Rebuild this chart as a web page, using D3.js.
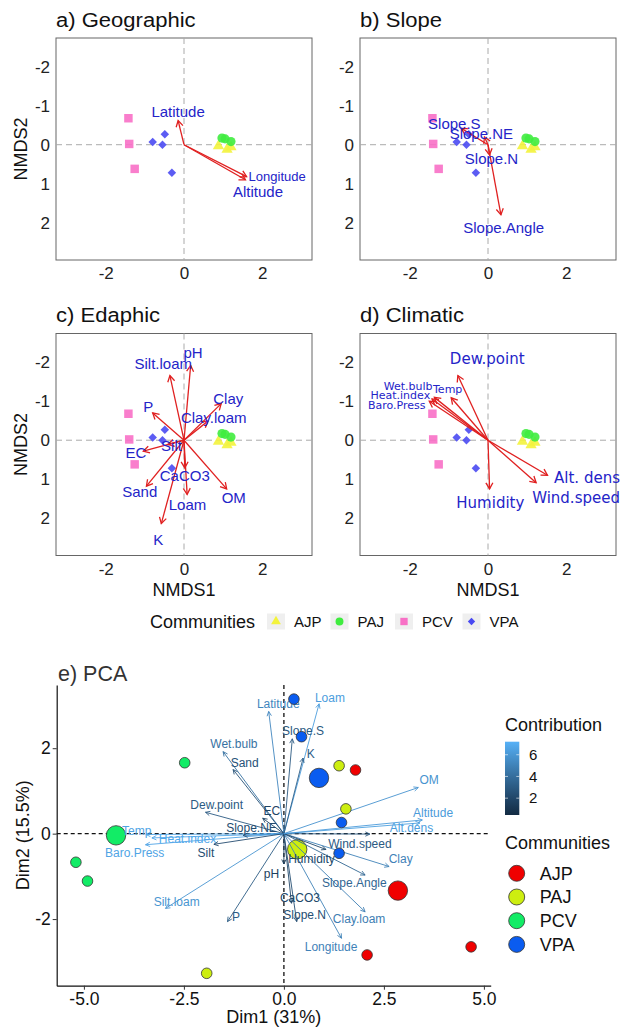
<!DOCTYPE html>
<html>
<head>
<meta charset="utf-8">
<script src="https://cdn.jsdelivr.net/npm/d3@7"></script>
<style>
  body { margin: 0; background: #fff; }
  svg { display: block; }
</style>
</head>
<body>
<svg id="chart" width="621" height="1029"></svg>
<script>
// ---- data ----
var communities = ["AJP", "PAJ", "PCV", "VPA"];

// NMDS site scores, same for the four panels
var nmdsSites = [
  {comm: "AJP", x: 0.88, y: 0.03}, {comm: "AJP", x: 1.10, y: 0.12}, {comm: "AJP", x: 1.20, y: 0.06},
  {comm: "PAJ", x: 0.97, y: -0.17}, {comm: "PAJ", x: 1.05, y: -0.15}, {comm: "PAJ", x: 1.20, y: -0.08},
  {comm: "PCV", x: -1.42, y: -0.68}, {comm: "PCV", x: -1.40, y: -0.02}, {comm: "PCV", x: -1.26, y: 0.62},
  {comm: "VPA", x: -0.80, y: -0.07}, {comm: "VPA", x: -0.49, y: -0.27}, {comm: "VPA", x: -0.55, y: 0.00}, {comm: "VPA", x: -0.31, y: 0.72}
];

// fitted vectors: x,y = arrow tip, lx,ly = where the label sits
var geoVectors = [
  {name: "Latitude", x: -0.15, y: -0.62, lx: -0.15, ly: -0.85},
  {name: "Longitude", x: 1.60, y: 0.82, lx: 2.38, ly: 0.82},
  {name: "Altitude", x: 1.57, y: 0.90, lx: 1.89, ly: 1.22}
];
var slopeVectors = [
  {name: "Slope.S", x: -0.68, y: -0.42, lx: -0.86, ly: -0.53},
  {name: "Slope.NE", x: -0.09, y: -0.20, lx: -0.17, ly: -0.27},
  {name: "Slope.N", x: 0.04, y: 0.26, lx: 0.09, ly: 0.37},
  {name: "Slope.Angle", x: 0.33, y: 1.80, lx: 0.40, ly: 2.13}
];
var edaVectors = [
  {name: "pH", x: 0.17, y: -1.92, lx: 0.23, ly: -2.24},
  {name: "Silt.loam", x: -0.36, y: -1.66, lx: -0.53, ly: -1.97},
  {name: "Clay", x: 0.95, y: -0.94, lx: 1.13, ly: -1.06},
  {name: "Clay.loam", x: 0.61, y: -0.49, lx: 0.76, ly: -0.57},
  {name: "P", x: -0.80, y: -0.70, lx: -0.91, ly: -0.86},
  {name: "EC", x: -1.04, y: 0.28, lx: -1.23, ly: 0.32},
  {name: "Silt", x: -0.41, y: 0.11, lx: -0.32, ly: 0.15},
  {name: "CaCO3", x: 0.02, y: 0.71, lx: 0.02, ly: 0.90},
  {name: "Loam", x: 0.08, y: 1.39, lx: 0.09, ly: 1.65},
  {name: "Sand", x: -0.96, y: 1.18, lx: -1.13, ly: 1.33},
  {name: "K", x: -0.58, y: 2.14, lx: -0.66, ly: 2.55},
  {name: "OM", x: 1.09, y: 1.25, lx: 1.27, ly: 1.48}
];
var climVectors = [
  {name: "Dew.point", x: -0.77, y: -1.66, lx: -0.02, ly: -2.09},
  {name: "Temp", x: -0.94, y: -1.09, lx: -1.03, ly: -1.30},
  {name: "Wet.bulb", x: -1.37, y: -1.10, lx: -2.04, ly: -1.40},
  {name: "Heat.index", x: -1.43, y: -1.06, lx: -2.24, ly: -1.16},
  {name: "Baro.Press", x: -1.50, y: -1.00, lx: -2.33, ly: -0.90},
  {name: "Humidity", x: 0.04, y: 1.25, lx: 0.06, ly: 1.60},
  {name: "Alt. dens", x: 1.52, y: 0.90, lx: 2.53, ly: 0.97},
  {name: "Wind.speed", x: 1.23, y: 1.09, lx: 2.25, ly: 1.49}
];
var nmdsTicks = [-2, -1, 0, 1, 2];
var nmdsXTicks = [-2, 0, 2];

// PCA individuals
var pcaInd = [
  {comm: "AJP", x: 1.79, y: 1.49}, {comm: "AJP", x: 2.08, y: -2.84}, {comm: "AJP", x: 4.68, y: -2.65},
  {comm: "PAJ", x: 1.38, y: 1.59}, {comm: "PAJ", x: 1.55, y: 0.58}, {comm: "PAJ", x: -1.93, y: -3.27},
  {comm: "PCV", x: -2.48, y: 1.66}, {comm: "PCV", x: -5.20, y: -0.67}, {comm: "PCV", x: -4.91, y: -1.11},
  {comm: "VPA", x: 0.25, y: 3.15}, {comm: "VPA", x: 0.44, y: 2.27}, {comm: "VPA", x: 1.44, y: 0.26}, {comm: "VPA", x: 1.38, y: -0.46}
];
// PCA variables: tip, label spot, contribution
var pcaVars = [
  {name: "Latitude", x: -0.38, y: 2.86, lx: -0.14, ly: 3.03, contrib: 5.2},
  {name: "Loam", x: 0.88, y: 3.04, lx: 1.15, ly: 3.19, contrib: 6.3},
  {name: "Slope.S", x: 0.21, y: 2.22, lx: 0.48, ly: 2.41, contrib: 3.0},
  {name: "K", x: 0.48, y: 1.77, lx: 0.67, ly: 1.88, contrib: 3.2},
  {name: "Wet.bulb", x: -1.52, y: 1.92, lx: -1.25, ly: 2.10, contrib: 4.2},
  {name: "Sand", x: -1.27, y: 1.50, lx: -0.98, ly: 1.67, contrib: 2.6},
  {name: "Dew.point", x: -1.96, y: 0.50, lx: -1.68, ly: 0.68, contrib: 3.0},
  {name: "EC", x: -0.53, y: 0.36, lx: -0.30, ly: 0.53, contrib: 1.8},
  {name: "Slope.NE", x: -1.02, y: -0.04, lx: -0.81, ly: 0.13, contrib: 2.3},
  {name: "Temp", x: -3.45, y: -0.02, lx: -3.68, ly: 0.07, contrib: 6.6},
  {name: "Heat.index", x: -3.30, y: -0.10, lx: -2.41, ly: -0.11, contrib: 6.8},
  {name: "Baro.Press", x: -3.46, y: -0.26, lx: -3.73, ly: -0.46, contrib: 6.6},
  {name: "Silt", x: -1.75, y: -0.25, lx: -1.95, ly: -0.44, contrib: 2.3},
  {name: "Silt.loam", x: -2.96, y: -1.75, lx: -2.68, ly: -1.59, contrib: 5.9},
  {name: "P", x: -1.41, y: -2.06, lx: -1.20, ly: -1.94, contrib: 3.1},
  {name: "pH", x: 0.00, y: -0.71, lx: -0.31, ly: -0.93, contrib: 1.6},
  {name: "CaCO3", x: 0.19, y: -1.63, lx: 0.40, ly: -1.50, contrib: 2.0},
  {name: "Slope.N", x: 0.32, y: -2.06, lx: 0.52, ly: -1.90, contrib: 2.4},
  {name: "Clay.loam", x: 2.03, y: -1.83, lx: 1.88, ly: -2.00, contrib: 4.8},
  {name: "Longitude", x: 1.44, y: -2.45, lx: 1.18, ly: -2.65, contrib: 5.0},
  {name: "Slope.Angle", x: 2.03, y: -0.97, lx: 1.76, ly: -1.15, contrib: 3.6},
  {name: "Clay", x: 2.63, y: -0.77, lx: 2.92, ly: -0.60, contrib: 5.0},
  {name: "Wind.speed", x: 2.15, y: -0.01, lx: 1.90, ly: -0.23, contrib: 3.0},
  {name: "Humidity", x: 1.05, y: -0.37, lx: 0.69, ly: -0.58, contrib: 2.0},
  {name: "Alt.dens", x: 3.40, y: 0.25, lx: 3.19, ly: 0.13, contrib: 6.4},
  {name: "Altitude", x: 3.46, y: 0.32, lx: 3.73, ly: 0.48, contrib: 6.2},
  {name: "OM", x: 3.36, y: 1.08, lx: 3.63, ly: 1.26, contrib: 5.8}
];
var contribTicks = [2, 4, 6];
var pcaXTicks = [-5, -2.5, 0, 2.5, 5];
var pcaYTicks = [-2, 0, 2];

// ---- drawing ----
var svg = d3.select("#chart");
var FONT = "Liberation Sans, Arial, sans-serif";

var nmdsFill = {AJP: "#f3f33c", PAJ: "#3fec3f", PCV: "#f870c6", VPA: "#4a4af2"};
// diamond = a square turned 45 degrees
var nmdsShape = {AJP: d3.symbolTriangle, PAJ: d3.symbolCircle, PCV: d3.symbolSquare, VPA: d3.symbolSquare};
var nmdsRot = {AJP: 0, PAJ: 0, PCV: 0, VPA: 45};
var nmdsSize = {AJP: 55, PAJ: 66, PCV: 72, VPA: 36};
var pcaFill = {AJP: "#f00000", PAJ: "#cdee10", PCV: "#12ec66", VPA: "#0a5cf0"};

var labelSize = {"Longitude": 13, "Wet.bulb": 11, "Heat.index": 11, "Baro.Press": 11, "Temp": 11};

function headPath(x1, y1, x2, y2, len, ang) {
  var a = Math.atan2(y2 - y1, x2 - x1);
  return "M" + (x2 - len * Math.cos(a - ang)) + "," + (y2 - len * Math.sin(a - ang)) +
    "L" + x2 + "," + y2 +
    "L" + (x2 - len * Math.cos(a + ang)) + "," + (y2 - len * Math.sin(a + ang));
}

var PW = 256, PH = 222;
var panels = [
  {title: "a) Geographic", vec: geoVectors, left: 56, top: 38, yTitle: true, xTitle: false},
  {title: "b) Slope", vec: slopeVectors, left: 360, top: 38, yTitle: false, xTitle: false},
  {title: "c) Edaphic", vec: edaVectors, left: 56, top: 333.5, yTitle: true, xTitle: true},
  {title: "d) Climatic", vec: climVectors, left: 360, top: 333.5, yTitle: false, xTitle: true, font: "DejaVu Sans, sans-serif"}
];

panels.forEach(function(p) {
  var x = d3.scaleLinear().domain([-3.27, 3.27]).range([p.left, p.left + PW]);
  var y = d3.scaleLinear().domain([-2.74, 2.96]).range([p.top, p.top + PH]);
  var g = svg.append("g");

  g.append("rect")
    .attr("x", p.left).attr("y", p.top).attr("width", PW).attr("height", PH)
    .attr("fill", "white").attr("stroke", "#666").attr("stroke-width", 1);

  g.append("line")
    .attr("x1", x(0)).attr("x2", x(0)).attr("y1", p.top).attr("y2", p.top + PH)
    .attr("stroke", "#aaa").attr("stroke-dasharray", "6,4");
  g.append("line")
    .attr("x1", p.left).attr("x2", p.left + PW).attr("y1", y(0)).attr("y2", y(0))
    .attr("stroke", "#aaa").attr("stroke-dasharray", "6,4");

  var xa = g.append("g").attr("transform", "translate(0," + (p.top + PH) + ")")
    .call(d3.axisBottom(x).tickValues(nmdsXTicks).tickSize(0).tickPadding(7).tickFormat(function(d) { return String(d); }));
  xa.select(".domain").remove();
  xa.selectAll("text").attr("font-family", FONT).attr("font-size", 17).attr("fill", "#222");

  var ya = g.append("g").attr("transform", "translate(" + p.left + ",0)")
    .call(d3.axisLeft(y).tickValues(nmdsTicks).tickSize(0).tickPadding(6).tickFormat(function(d) { return String(d); }));
  ya.select(".domain").remove();
  ya.selectAll("text").attr("font-family", FONT).attr("font-size", 17).attr("fill", "#222");

  // sites
  g.selectAll("path.site").data(nmdsSites).enter().append("path")
    .attr("class", "site")
    .attr("d", function(d) { return d3.symbol().type(nmdsShape[d.comm]).size(nmdsSize[d.comm])(); })
    .attr("transform", function(d) { return "translate(" + x(d.x) + "," + y(d.y) + ") rotate(" + nmdsRot[d.comm] + ")"; })
    .attr("fill", function(d) { return nmdsFill[d.comm]; })
    .attr("opacity", 0.9);

  // arrows
  var ag = g.append("g").attr("stroke", "#e02020").attr("stroke-width", 1.3).attr("fill", "none");
  ag.selectAll("line").data(p.vec).enter().append("line")
    .attr("x1", x(0)).attr("y1", y(0))
    .attr("x2", function(d) { return x(d.x); }).attr("y2", function(d) { return y(d.y); });
  ag.selectAll("path").data(p.vec).enter().append("path")
    .attr("d", function(d) { return headPath(x(0), y(0), x(d.x), y(d.y), 7, Math.PI / 6); });

  g.selectAll("text.vlab").data(p.vec).enter().append("text")
    .attr("class", "vlab")
    .attr("x", function(d) { return x(d.lx); }).attr("y", function(d) { return y(d.ly); })
    .attr("dy", "0.35em").attr("text-anchor", "middle")
    .attr("font-family", p.font || FONT)
    .attr("font-size", function(d) { return labelSize[d.name] || 15; })
    .attr("fill", "#2424c8")
    .text(function(d) { return d.name; });

  svg.append("text")
    .attr("transform", "translate(" + p.left + "," + (p.top - 11.5) + ") scale(1.13,1)")
    .attr("font-family", FONT).attr("font-size", 19.5).attr("fill", "#111")
    .text(p.title);

  if (p.yTitle) {
    svg.append("text")
      .attr("transform", "translate(27," + (p.top + PH / 2) + ") rotate(-90)")
      .attr("text-anchor", "middle").attr("font-family", FONT).attr("font-size", 18).attr("fill", "#111")
      .text("NMDS2");
  }
  if (p.xTitle) {
    svg.append("text")
      .attr("x", x(0)).attr("y", p.top + PH + 40.5)
      .attr("text-anchor", "middle").attr("font-family", FONT).attr("font-size", 18).attr("fill", "#111")
      .text("NMDS1");
  }
});

// NMDS legend
svg.append("text").attr("x", 150).attr("y", 627.5)
  .attr("font-family", FONT).attr("font-size", 18).attr("fill", "#111").text("Communities");
var keyX = [276, 339.5, 404, 471.5];
var lg = svg.selectAll("g.nkey").data(communities).enter().append("g")
  .attr("class", "nkey")
  .attr("transform", function(d, i) { return "translate(" + keyX[i] + ",621.5)"; });
lg.append("rect").attr("x", -9).attr("y", -8).attr("width", 18).attr("height", 16).attr("fill", "#efefef");
lg.append("path")
  .attr("d", function(d) { return d3.symbol().type(nmdsShape[d]).size(nmdsSize[d] * 0.75)(); })
  .attr("transform", function(d) { return "rotate(" + nmdsRot[d] + ")"; })
  .attr("fill", function(d) { return nmdsFill[d]; });
lg.append("text").attr("x", 18).attr("y", 5.5)
  .attr("font-family", FONT).attr("font-size", 15).attr("fill", "#111").text(function(d) { return d; });

// ---- PCA biplot ----
var px = d3.scaleLinear().domain([-5.68, 5.17]).range([56.7, 490.7]);
var py = d3.scaleLinear().domain([-3.56, 3.48]).range([985.7, 685]);
var contribColor = d3.scaleLinear().domain([0.45, 7.2]).range(["#132B43", "#56B1F7"]).interpolate(d3.interpolateLab);

var pg = svg.append("g");
pg.append("line").attr("x1", px(0)).attr("x2", px(0)).attr("y1", 685).attr("y2", 985.7)
  .attr("stroke", "#111").attr("stroke-width", 1.3).attr("stroke-dasharray", "4,3");
pg.append("line").attr("x1", 56.7).attr("x2", 490.7).attr("y1", py(0)).attr("y2", py(0))
  .attr("stroke", "#111").attr("stroke-width", 1.3).attr("stroke-dasharray", "4,3");

var pxa = pg.append("g").attr("transform", "translate(0,985.7)")
  .call(d3.axisBottom(px).tickValues(pcaXTicks).tickSize(4).tickSizeOuter(0).tickPadding(2.5)
    .tickFormat(function(d) { return d.toFixed(1); }));
var pya = pg.append("g").attr("transform", "translate(56.7,0)")
  .call(d3.axisLeft(py).tickValues(pcaYTicks).tickSize(4).tickSizeOuter(0).tickPadding(2)
    .tickFormat(function(d) { return String(d); }));
[pxa, pya].forEach(function(a) {
  a.select(".domain").attr("stroke", "#111").attr("stroke-width", 1.2);
  a.selectAll(".tick line").attr("stroke", "#333");
  a.selectAll("text").attr("font-family", FONT).attr("font-size", 17.5).attr("fill", "#111");
});

// group means
var means = communities.map(function(c) {
  var pts = pcaInd.filter(function(d) { return d.comm === c; });
  return {comm: c, x: d3.mean(pts, function(d) { return d.x; }), y: d3.mean(pts, function(d) { return d.y; })};
});
pg.selectAll("circle.mean").data(means).enter().append("circle")
  .attr("class", "mean")
  .attr("cx", function(d) { return px(d.x); }).attr("cy", function(d) { return py(d.y); })
  .attr("r", 9.7)
  .attr("fill", function(d) { return pcaFill[d.comm]; })
  .attr("stroke", "#333").attr("stroke-width", 0.8);

// variable arrows
var vg = pg.append("g").attr("fill", "none").attr("stroke-width", 0.9);
vg.selectAll("line").data(pcaVars).enter().append("line")
  .attr("x1", px(0)).attr("y1", py(0))
  .attr("x2", function(d) { return px(d.x); }).attr("y2", function(d) { return py(d.y); })
  .attr("stroke", function(d) { return contribColor(d.contrib); });
vg.selectAll("path").data(pcaVars).enter().append("path")
  .attr("d", function(d) { return headPath(px(0), py(0), px(d.x), py(d.y), 5, Math.PI / 7); })
  .attr("stroke", function(d) { return contribColor(d.contrib); });
pg.selectAll("text.plab").data(pcaVars).enter().append("text")
  .attr("class", "plab")
  .attr("x", function(d) { return px(d.lx); }).attr("y", function(d) { return py(d.ly); })
  .attr("dy", "0.35em").attr("text-anchor", "middle")
  .attr("font-family", FONT).attr("font-size", 12)
  .attr("fill", function(d) { return contribColor(d.contrib); })
  .text(function(d) { return d.name; });

// individuals
pg.selectAll("circle.ind").data(pcaInd).enter().append("circle")
  .attr("class", "ind")
  .attr("cx", function(d) { return px(d.x); }).attr("cy", function(d) { return py(d.y); })
  .attr("r", 5.3)
  .attr("fill", function(d) { return pcaFill[d.comm]; })
  .attr("stroke", "#333").attr("stroke-width", 0.8);

svg.append("text").attr("x", 58).attr("y", 680.5)
  .attr("font-family", FONT).attr("font-size", 21.5).attr("fill", "#333").text("e) PCA");
svg.append("text").attr("x", (56.7 + 490.7) / 2).attr("y", 1022.5).attr("text-anchor", "middle")
  .attr("font-family", FONT).attr("font-size", 18).attr("fill", "#111").text("Dim1 (31%)");
svg.append("text").attr("transform", "translate(29," + ((685 + 985.7) / 2) + ") rotate(-90)")
  .attr("text-anchor", "middle").attr("font-family", FONT).attr("font-size", 18).attr("fill", "#111")
  .text("Dim2 (15.5%)");

// contribution colour bar
var cb = d3.scaleLinear().domain([0.45, 7.2]).range([815, 741.7]);
var grad = svg.append("defs").append("linearGradient").attr("id", "cgrad")
  .attr("x1", 0).attr("x2", 0).attr("y1", 1).attr("y2", 0);
d3.range(0, 1.01, 0.1).forEach(function(t) {
  grad.append("stop").attr("offset", t)
    .attr("stop-color", contribColor(0.45 + t * (7.2 - 0.45)));
});
svg.append("text").attr("x", 505).attr("y", 731)
  .attr("font-family", FONT).attr("font-size", 18).attr("fill", "#111").text("Contribution");
svg.append("rect").attr("x", 505).attr("y", 741.7).attr("width", 14.3).attr("height", 815 - 741.7)
  .attr("fill", "url(#cgrad)");
var cbt = svg.selectAll("g.cbt").data(contribTicks).enter().append("g").attr("class", "cbt");
cbt.append("line").attr("x1", 505).attr("x2", 508).attr("y1", function(d) { return cb(d); }).attr("y2", function(d) { return cb(d); })
  .attr("stroke", "#fff").attr("stroke-opacity", 0.6);
cbt.append("line").attr("x1", 516.3).attr("x2", 519.3).attr("y1", function(d) { return cb(d); }).attr("y2", function(d) { return cb(d); })
  .attr("stroke", "#fff").attr("stroke-opacity", 0.6);
cbt.append("text").attr("x", 529).attr("y", function(d) { return cb(d); }).attr("dy", "0.35em")
  .attr("font-family", FONT).attr("font-size", 15).attr("fill", "#111").text(function(d) { return d; });

// communities legend for PCA
svg.append("text").attr("x", 505).attr("y", 849)
  .attr("font-family", FONT).attr("font-size", 18).attr("fill", "#111").text("Communities");
var pk = svg.selectAll("g.pkey").data(communities).enter().append("g")
  .attr("class", "pkey")
  .attr("transform", function(d, i) { return "translate(516.7," + (873.3 + i * 23.7) + ")"; });
pk.append("circle").attr("r", 8).attr("fill", function(d) { return pcaFill[d]; })
  .attr("stroke", "#333").attr("stroke-width", 0.8);
pk.append("text").attr("x", 23).attr("y", 0).attr("dy", "0.35em")
  .attr("font-family", FONT).attr("font-size", 18).attr("fill", "#111").text(function(d) { return d; });
</script>
</body>
</html>
